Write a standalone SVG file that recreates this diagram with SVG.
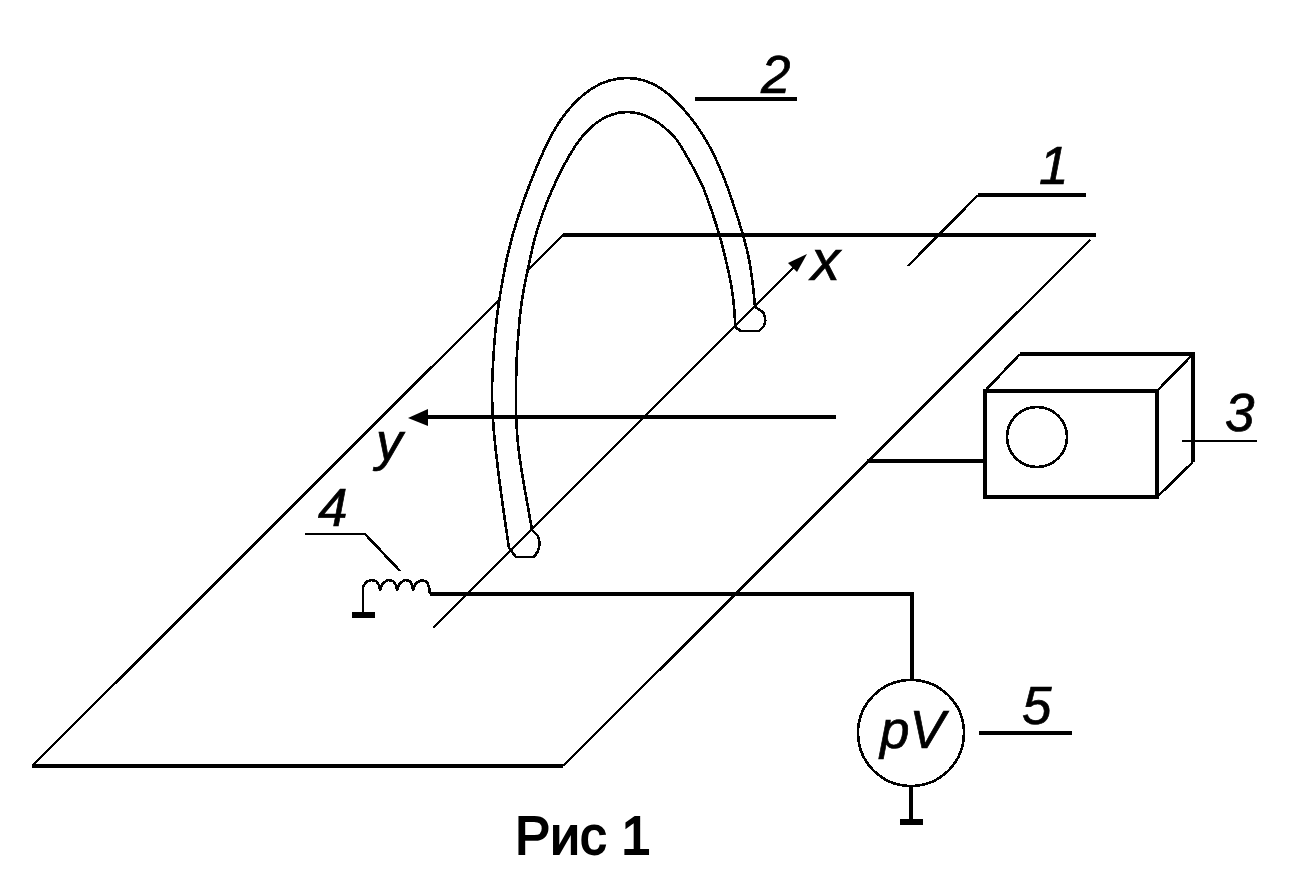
<svg xmlns="http://www.w3.org/2000/svg" width="1291" height="873" viewBox="0 0 1291 873">
<style>
.l{fill:none;stroke:#000;stroke-width:2.6;stroke-linejoin:round;shape-rendering:crispEdges}
.m{fill:none;stroke:#000;stroke-width:3.2;shape-rendering:crispEdges}
.h{fill:none;stroke:#000;stroke-width:6;shape-rendering:crispEdges}
.t{font-family:"Liberation Sans",Arial,sans-serif;font-style:italic;font-size:53px;fill:#000;stroke:#000;stroke-width:.7}
.c{font-family:"Liberation Sans",Arial,sans-serif;font-size:53px;fill:#000;stroke:#000;stroke-width:1.8}
</style>
<rect width="1291" height="873" fill="#fff"/>
<g id="plate"><path class="m" d="M1096 235H563"/><path class="l" d="M563 235L526 272M498 301L32 766"/><path class="m" d="M32 766H563"/><path class="l" d="M563 766L1090 240"/></g>
<g id="coil-frame">
<path class="l" d="M509 548L504 514Q499 480 495.500 448Q492 417 492 387Q493 357 495.500 330Q498 303 505.500 265Q513 227 530 183.500Q547 140 560 121C580 92 603 78 627 78C652 78 670 92 690 117Q703 133 713 153Q723 173 732.500 201.500Q742 230 747 250Q752 270 755 307"/>
<path class="l" d="M532 530L526 496Q523 480 520 460Q516 435 516 400Q516 357 518.500 333Q520 310 523.500 291Q527 273 532 250Q537 227 547 202Q557 177 570 154.500C585 128 605 112 627 112C648 112 664 125 677 140Q690 160 703 187Q712 210 720 237Q730 275 732 290Q735 310 735 327"/>
<path class="l" d="M755 307L763 312Q767 319 764 326L759 331H741L735 327"/>
<path class="l" d="M532 530L538 536Q541 544 538 551L534 557H516L509 548"/>
</g>
<g id="connectors">
<path class="l" d="M433 628L795 266"/>
<path d="M807 254L797 272L788 263Z" fill="#000"/>
<path class="m" d="M836 417H425"/>
<path d="M408 418L428 409V426Z" fill="#000"/>
<path class="m" d="M430 594H912V681"/>
<path class="m" d="M867 461H984"/>
<path class="l" d="M305 534H365L400 571"/>
<path class="m" d="M695 99H797"/>
<path class="l" d="M908 266L978 195"/>
<path class="m" d="M978 195H1086"/>
<path class="l" d="M1182 441H1257"/>
<path class="m" d="M979 733H1072"/>
</g>
<g id="inductor">
<path class="l" d="M363 615V587L366 582L371 580L376 581L379 585L380 590L383 583L388 580L393 581L396 585L397 590L400 583L405 580L410 581L412 585L413 590L416 583L422 580L427 582L429 587L430 594"/>
<path class="h" d="M352 615H375"/>
</g>
<g id="box">
<rect class="m" x="985" y="391" width="172" height="106"/>
<path class="l" d="M985 391L1020 354"/>
<path class="m" d="M1020 354H1193V462"/>
<path class="l" d="M1157 391L1193 354M1157 497L1193 462"/>
<circle class="l" cx="1037" cy="437" r="30"/>
</g>
<g id="voltmeter">
<circle class="l" cx="911" cy="733" r="53"/>
<path class="m" d="M911 786V822"/>
<path class="h" d="M900 822H923"/>
<text class="t" x="880" y="748">pV</text>
</g>
<g id="labels">
<text class="t" x="761" y="93">2</text>
<text class="t" x="1039" y="184">1</text>
<text class="t" x="1225" y="431">3</text>
<text class="t" x="318" y="526">4</text>
<text class="t" x="1022" y="724">5</text>
<text class="t" x="811" y="280" style="font-size:58px">x</text>
<text class="t" x="376" y="460">y</text>
<text class="c" x="515" y="854">Рис 1</text>
</g>
</svg>
